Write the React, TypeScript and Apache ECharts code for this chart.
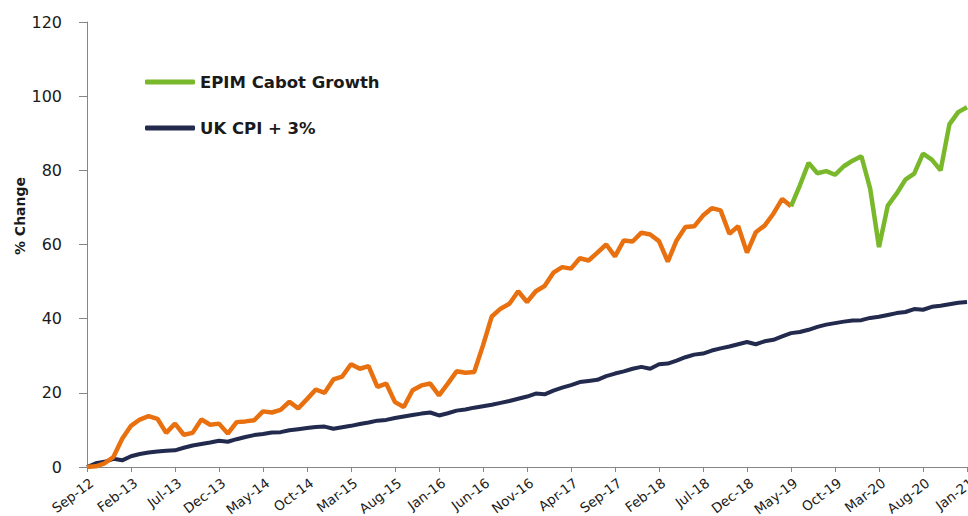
import React, { useEffect, useRef } from "react";
import * as echarts from "echarts";

const MONTH_NAMES = ["Jan", "Feb", "Mar", "Apr", "May", "Jun", "Jul", "Aug", "Sep", "Oct", "Nov", "Dec"];
const START_YEAR = 2012;
const START_MONTH = 8; // Sep
const MONTH_COUNT = 101; // Sep-12 .. Jan-21

const CATEGORIES: string[] = [];
for (let k = 0; k < MONTH_COUNT; k++) {
  const m = (START_MONTH + k) % 12;
  const y = START_YEAR + Math.floor((START_MONTH + k) / 12);
  CATEGORIES.push(`${MONTH_NAMES[m]}-${String(y % 100).padStart(2, "0")}`);
}

// Pre-launch track record (orange), Sep-12 .. May-19
const TRACK_RECORD = [
  0, 0.2, 1.0, 2.7, 7.6, 11.1, 12.8, 13.7, 13.0, 9.2,
  11.7, 8.7, 9.2, 12.8, 11.4, 11.7, 9.0, 12.1, 12.3, 12.6,
  15.0, 14.7, 15.4, 17.6, 15.8, 18.3, 20.9, 20.0, 23.6, 24.4,
  27.7, 26.5, 27.2, 21.6, 22.5, 17.5, 16.2, 20.7, 22.0, 22.5,
  19.3, 22.5, 25.8, 25.4, 25.6, 32.8, 40.6, 42.7, 44.0, 47.4,
  44.5, 47.4, 48.8, 52.4, 53.9, 53.5, 56.3, 55.7, 57.8, 60.0,
  56.8, 61.1, 60.8, 63.2, 62.7, 60.9, 55.4, 61.1, 64.7, 64.9,
  67.8, 69.8, 69.2, 62.9, 64.9, 57.8, 63.3, 65.1, 68.3, 72.3,
  70.3,
];

// EPIM Cabot Growth (green), May-19 .. Jan-21
const EPIM_START_INDEX = 80;
const EPIM_CABOT_GROWTH = [
  70.3, 75.9, 82.0, 79.2, 79.8, 78.8, 81.1, 82.6, 83.8, 75.0,
  59.3, 70.5, 73.7, 77.5, 79.1, 84.5, 82.9, 80.0, 92.4, 95.7,
  97.0,
];

// UK CPI + 3%, Sep-12 .. Jan-21
const UK_CPI_PLUS_3 = [
  0, 1.0, 1.4, 2.2, 1.8, 2.9, 3.5, 3.9, 4.2, 4.4,
  4.5, 5.2, 5.8, 6.2, 6.6, 7.1, 6.8, 7.5, 8.1, 8.6,
  8.9, 9.3, 9.4, 9.9, 10.2, 10.5, 10.8, 10.9, 10.3, 10.7,
  11.1, 11.6, 12.0, 12.5, 12.7, 13.2, 13.6, 14.0, 14.4, 14.7,
  13.9, 14.5, 15.2, 15.5, 16.0, 16.4, 16.8, 17.3, 17.8, 18.4,
  19.0, 19.8, 19.6, 20.6, 21.4, 22.1, 22.9, 23.2, 23.5, 24.5,
  25.2, 25.8, 26.5, 27.0, 26.5, 27.7, 27.9, 28.7, 29.6, 30.3,
  30.6, 31.4, 32.0, 32.5, 33.1, 33.7, 33.1, 33.9, 34.3, 35.2,
  36.1, 36.4, 37.0, 37.8, 38.4, 38.8, 39.2, 39.5, 39.6, 40.2,
  40.5, 41.0, 41.5, 41.8, 42.6, 42.4, 43.2, 43.5, 43.9, 44.3,
  44.5,
];

const Y_MIN = 0;
const Y_MAX = 120;
const Y_STEP = 20;

const FONT = "DejaVu Sans";

export default function App() {
  const ref = useRef<HTMLDivElement>(null);

  useEffect(() => {
    if (!ref.current) return;
    const chart = echarts.init(ref.current, undefined, { renderer: "svg" });

    const orangeData = CATEGORIES.map((_, i) => (i < TRACK_RECORD.length ? TRACK_RECORD[i] : null));
    const greenData = CATEGORIES.map((_, i) =>
      i >= EPIM_START_INDEX && i - EPIM_START_INDEX < EPIM_CABOT_GROWTH.length
        ? EPIM_CABOT_GROWTH[i - EPIM_START_INDEX]
        : null
    );

    chart.setOption({
      animation: false,
      backgroundColor: "#ffffff",
      grid: { left: 87, right: 1, top: 22, bottom: 49, containLabel: false, outerBoundsMode: "none" },
      legend: {
        show: true,
        orient: "vertical",
        left: 145,
        top: 72,
        padding: 0,
        itemGap: 26,
        itemWidth: 50,
        itemHeight: 5,
        icon: "roundRect",
        data: ["EPIM Cabot Growth", "UK CPI + 3%"],
        textStyle: {
          fontFamily: FONT,
          fontSize: 16.5,
          fontWeight: "bold",
          color: "#1a1a1a",
          lineHeight: 20,
        },
        selectedMode: false,
      },
      xAxis: {
        type: "category",
        boundaryGap: false,
        data: CATEGORIES,
        axisLine: { show: true, lineStyle: { color: "#868686", width: 1 } },
        axisTick: { show: true, interval: 4, length: 5, lineStyle: { color: "#868686" } },
        axisLabel: {
          interval: 4,
          rotate: 37,
          fontFamily: FONT,
          fontSize: 13.5,
          lineHeight: 15,
          color: "#1a1a1a",
          margin: 8,
          verticalAlign: "top",
        },
        splitLine: { show: false },
      },
      yAxis: {
        type: "value",
        min: Y_MIN,
        max: Y_MAX,
        interval: Y_STEP,
        axisLine: { show: true, lineStyle: { color: "#868686", width: 1 } },
        axisTick: { show: true, length: 8, lineStyle: { color: "#868686" } },
        axisLabel: { fontFamily: FONT, fontSize: 16, color: "#1a1a1a", margin: 25 },
        splitLine: { show: false },
      },
      graphic: [
        {
          type: "text",
          x: 20,
          y: 216,
          rotation: Math.PI / 2,
          style: {
            text: "% Change",
            fontFamily: FONT,
            fontSize: 14,
            fontWeight: "bold",
            fill: "#1a1a1a",
            align: "center",
            verticalAlign: "middle",
          },
        },
      ],
      series: [
        {
          name: "UK CPI + 3%",
          type: "line",
          data: UK_CPI_PLUS_3,
          symbol: "none",
          lineStyle: { color: "#222a4e", width: 4 },
          itemStyle: { color: "#222a4e" },
          z: 2,
        },
        {
          name: "Track record",
          type: "line",
          data: orangeData,
          symbol: "none",
          connectNulls: false,
          lineStyle: { color: "#e8700e", width: 4.5 },
          itemStyle: { color: "#e8700e" },
          z: 3,
        },
        {
          name: "EPIM Cabot Growth",
          type: "line",
          data: greenData,
          symbol: "none",
          connectNulls: false,
          lineStyle: { color: "#78b82a", width: 4.5 },
          itemStyle: { color: "#78b82a" },
          z: 4,
        },
      ],
    });

    return () => chart.dispose();
  }, []);

  return (
    <div
      ref={ref}
      style={{ position: "fixed", left: 0, top: 0, width: 968, height: 516, background: "#fff" }}
    />
  );
}
